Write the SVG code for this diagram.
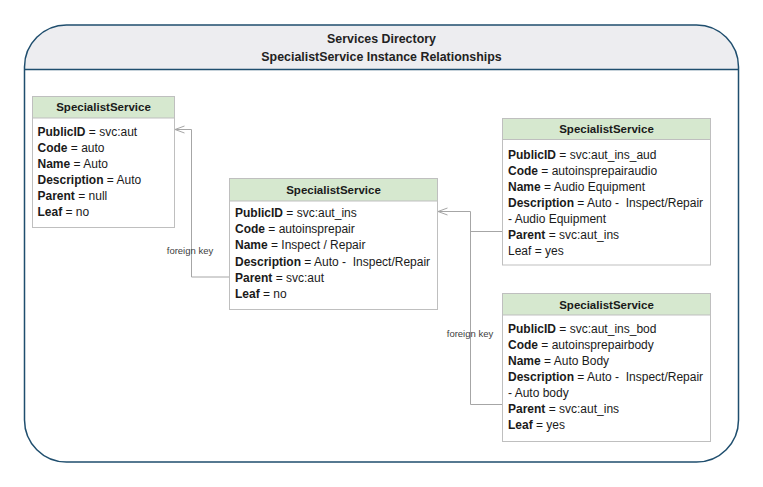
<svg xmlns="http://www.w3.org/2000/svg" width="763" height="487" viewBox="0 0 763 487">
<defs>
<style>
text{font-family:"Liberation Sans",Arial,sans-serif;fill:#1a1a1a;white-space:pre}
.title{font-size:12.4px;font-weight:bold;text-anchor:middle;fill:#222}
.hd{font-size:11.5px;font-weight:bold;text-anchor:middle}
.row{font-size:12px}
.b{font-weight:bold}
.box{fill:#ffffff;stroke:#bfbfbf;stroke-width:1}
.hbox{fill:#d6e8cf;stroke:#bfbfbf;stroke-width:1}
.conn{fill:none;stroke:#a6a6a6;stroke-width:1}
.lbl{font-size:9.5px;fill:#404040;text-anchor:middle}
</style>
</defs>
<rect width="763" height="487" fill="#ffffff"/>
<g id="frame">
<path d="M24.5,69.5 V67 A42,42 0 0 1 66.5,25 H696.5 A42,42 0 0 1 738.5,67 V69.5 Z" fill="#ededf0"/>
<path d="M24.5,67 A42,42 0 0 1 66.5,25 H696.5 A42,42 0 0 1 738.5,67 V420 A42,42 0 0 1 696.5,462 H66.5 A42,42 0 0 1 24.5,420 Z" fill="none" stroke="#1f4e6e" stroke-width="1.5"/>
<line x1="24.5" y1="69.5" x2="738.5" y2="69.5" stroke="#1f4e6e" stroke-width="1.5"/>
<text class="title" x="381.5" y="43">Services Directory</text>
<text class="title" x="381.5" y="61">SpecialistService Instance Relationships</text>
</g>
<g id="connectors">
<polyline class="conn" points="229.5,277 191.5,277 191.5,129.5 175,129.5"/>
<polyline class="conn" points="184.5,126 175,129.5 184.5,133"/>
<text class="lbl" x="190" y="254">foreign key</text>
<polyline class="conn" points="502.5,231.5 470.5,231.5"/>
<polyline class="conn" points="502.5,404.5 470.5,404.5 470.5,211.5 438,211.5"/>
<polyline class="conn" points="447.5,208 438,211.5 447.5,215"/>
<text class="lbl" x="470" y="336.5">foreign key</text>
</g>
<g id="node-aut">
<rect class="box" x="32.5" y="96.5" width="142" height="131"/>
<rect class="hbox" x="32.5" y="96.5" width="142" height="21.5"/>
<text class="hd" x="103.5" y="111">SpecialistService</text>
<text class="row" x="37.5" y="135.5"><tspan class="b">PublicID</tspan> = svc:aut</text>
<text class="row" x="37.5" y="151.5"><tspan class="b">Code</tspan> = auto</text>
<text class="row" x="37.5" y="167.5"><tspan class="b">Name</tspan> = Auto</text>
<text class="row" x="37.5" y="183.5"><tspan class="b">Description</tspan> = Auto</text>
<text class="row" x="37.5" y="199.5"><tspan class="b">Parent</tspan> = null</text>
<text class="row" x="37.5" y="215.5"><tspan class="b">Leaf</tspan> = no</text>
</g>
<g id="node-aut-ins">
<rect class="box" x="229.5" y="178.5" width="208" height="131"/>
<rect class="hbox" x="229.5" y="178.5" width="208" height="22.5"/>
<text class="hd" x="333.5" y="193.5">SpecialistService</text>
<text class="row" x="235" y="217"><tspan class="b">PublicID</tspan> = svc:aut_ins</text>
<text class="row" x="235" y="233"><tspan class="b">Code</tspan> = autoinsprepair</text>
<text class="row" x="235" y="249"><tspan class="b">Name</tspan> = Inspect / Repair</text>
<text class="row" x="235" y="265.5"><tspan class="b">Description</tspan> = Auto -  Inspect/Repair</text>
<text class="row" x="235" y="281.5"><tspan class="b">Parent</tspan> = svc:aut</text>
<text class="row" x="235" y="297.5"><tspan class="b">Leaf</tspan> = no</text>
</g>
<g id="node-aut-ins-aud">
<rect class="box" x="502.5" y="118.5" width="208" height="146.5"/>
<rect class="hbox" x="502.5" y="118.5" width="208" height="21"/>
<text class="hd" x="606.5" y="133">SpecialistService</text>
<text class="row" x="508" y="159"><tspan class="b">PublicID</tspan> = svc:aut_ins_aud</text>
<text class="row" x="508" y="175"><tspan class="b">Code</tspan> = autoinsprepairaudio</text>
<text class="row" x="508" y="191"><tspan class="b">Name</tspan> = Audio Equipment</text>
<text class="row" x="508" y="207"><tspan class="b">Description</tspan> = Auto -  Inspect/Repair</text>
<text class="row" x="508" y="223">- Audio Equipment</text>
<text class="row" x="508" y="238.5"><tspan class="b">Parent</tspan> = svc:aut_ins</text>
<text class="row" x="508" y="254.5">Leaf = yes</text>
</g>
<g id="node-aut-ins-bod">
<rect class="box" x="502.5" y="293.5" width="208" height="148"/>
<rect class="hbox" x="502.5" y="293.5" width="208" height="21.5"/>
<text class="hd" x="606.5" y="308.5">SpecialistService</text>
<text class="row" x="508" y="333"><tspan class="b">PublicID</tspan> = svc:aut_ins_bod</text>
<text class="row" x="508" y="349"><tspan class="b">Code</tspan> = autoinsprepairbody</text>
<text class="row" x="508" y="365"><tspan class="b">Name</tspan> = Auto Body</text>
<text class="row" x="508" y="381"><tspan class="b">Description</tspan> = Auto -  Inspect/Repair</text>
<text class="row" x="508" y="397">- Auto body</text>
<text class="row" x="508" y="413"><tspan class="b">Parent</tspan> = svc:aut_ins</text>
<text class="row" x="508" y="429"><tspan class="b">Leaf</tspan> = yes</text>
</g>
</svg>
